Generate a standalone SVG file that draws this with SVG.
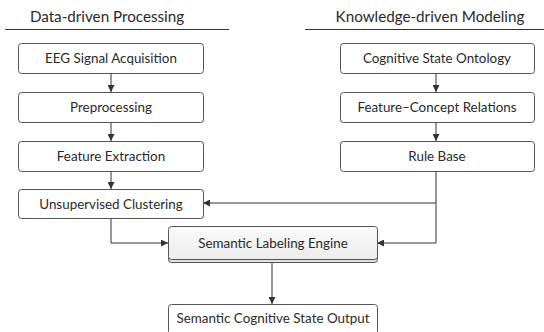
<svg xmlns="http://www.w3.org/2000/svg" width="544" height="332" viewBox="0 0 544 332">
<defs>
<marker id="ah" viewBox="0 0 10 10" refX="10" refY="5" markerWidth="7" markerHeight="7" markerUnits="userSpaceOnUse" orient="auto"><path d="M0,0 L10,5 L0,10 z" fill="#333"/></marker>
<linearGradient id="eg" x1="0" y1="0" x2="0" y2="1"><stop offset="0" stop-color="#fafafa"/><stop offset="1" stop-color="#ececec"/></linearGradient>
</defs>
<style>
.box{fill:#fff;stroke:#555;stroke-width:1}
.t{font-family:Lato,"Open Sans",sans-serif;font-size:13.4px;fill:#2a2a2a;text-anchor:middle}
.h{font-family:Lato,"Open Sans",sans-serif;font-size:15.2px;fill:#2a2a2a;text-anchor:middle}
.c{fill:none;stroke:#333;stroke-width:1}
</style>
<rect width="544" height="332" fill="#fff"/>
<g id="header-left"><text class="h" x="107" y="22">Data-driven Processing</text><line x1="5" y1="29.5" x2="229" y2="29.5" stroke="#333"/></g>
<g id="header-right"><text class="h" x="430" y="22">Knowledge-driven Modeling</text><line x1="305" y1="29.5" x2="544" y2="29.5" stroke="#333"/></g>
<g id="connectors">
<line class="c" x1="111" y1="73" x2="111" y2="92" marker-end="url(#ah)"/>
<line class="c" x1="111" y1="122" x2="111" y2="141" marker-end="url(#ah)"/>
<line class="c" x1="111" y1="171" x2="111" y2="189" marker-end="url(#ah)"/>
<line class="c" x1="436" y1="73" x2="436" y2="92" marker-end="url(#ah)"/>
<line class="c" x1="436" y1="122" x2="436" y2="141" marker-end="url(#ah)"/>
<polyline class="c" points="111,218 111,243 168,243" marker-end="url(#ah)"/>
<polyline class="c" points="436,171 436,243 377,243" marker-end="url(#ah)"/>
<polyline class="c" points="436,203 203,203" marker-end="url(#ah)"/>
<line class="c" x1="272" y1="262" x2="272" y2="304" marker-end="url(#ah)"/>
</g>
<g id="eeg"><rect class="box" x="18.5" y="43.5" width="185" height="30" rx="3"/><text class="t" x="111" y="63">EEG Signal Acquisition</text></g>
<g id="preprocessing"><rect class="box" x="18.5" y="92.5" width="185" height="30" rx="3"/><text class="t" x="111" y="112">Preprocessing</text></g>
<g id="feature-extraction"><rect class="box" x="18.5" y="141.5" width="185" height="30" rx="3"/><text class="t" x="111" y="161">Feature Extraction</text></g>
<g id="clustering"><rect class="box" x="18.5" y="189.5" width="185" height="29" rx="3"/><text class="t" x="111" y="208.5">Unsupervised Clustering</text></g>
<g id="ontology"><rect class="box" x="340.5" y="43.5" width="194" height="30" rx="3"/><text class="t" x="437" y="63">Cognitive State Ontology</text></g>
<g id="relations"><rect class="box" x="340.5" y="92.5" width="194" height="30" rx="3"/><text class="t" x="437" y="112">Feature–Concept Relations</text></g>
<g id="rule-base"><rect class="box" x="340.5" y="141.5" width="194" height="30" rx="3"/><text class="t" x="437" y="161">Rule Base</text></g>
<g id="engine"><rect x="168.5" y="229.5" width="209" height="33" rx="3" fill="#e0e0e0" stroke="#555"/><rect x="168.5" y="226.5" width="209" height="33" rx="3" fill="url(#eg)" stroke="#555"/><text class="t" x="273" y="247.5">Semantic Labeling Engine</text></g>
<g id="output"><rect class="box" x="168.5" y="304.5" width="209" height="30" rx="3"/><text class="t" x="273" y="322.5">Semantic Cognitive State Output</text></g>
</svg>
